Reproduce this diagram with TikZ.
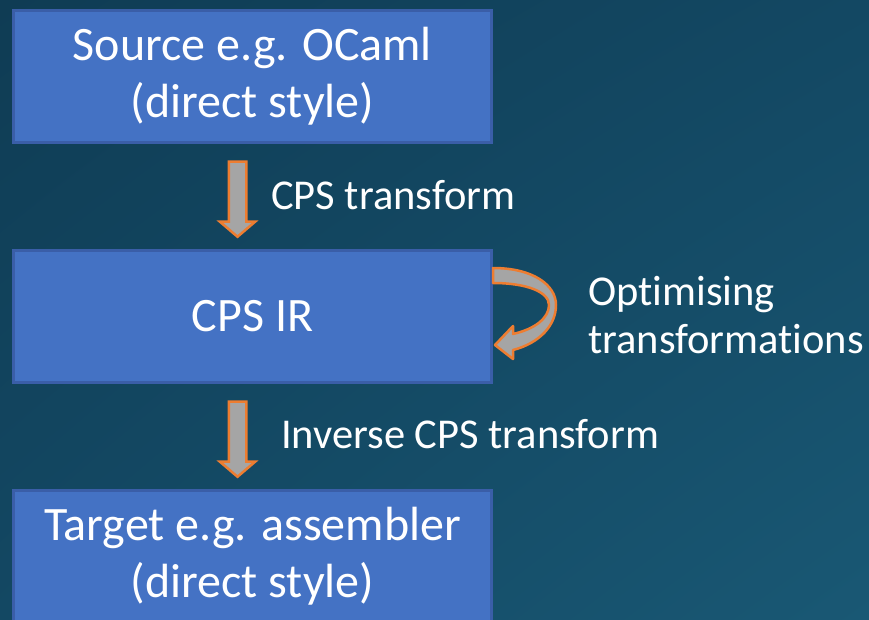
\documentclass[tikz,border=0pt]{standalone}
\usepackage{fontspec}
\setmainfont[Ligatures=NoCommon]{Carlito}
\usetikzlibrary{shapes.arrows,shadings}
\definecolor{SlideBgDark}{RGB}{15,60,84}
\definecolor{SlideBgMid}{RGB}{19,72,99}
\definecolor{SlideBgLight}{RGB}{25,88,116}
\definecolor{StageFill}{RGB}{68,114,196}
\definecolor{StageBorder}{RGB}{58,94,168}
\definecolor{ArrowFill}{RGB}{165,165,165}
\definecolor{ArrowEdge}{RGB}{237,125,49}

\begin{document}
\begin{tikzpicture}[x=1pt,y=-1pt,
  stage/.style={draw=StageBorder,fill=StageFill,line width=3pt,text=white,align=center,
    minimum width=478pt,minimum height=132pt,inner sep=0pt,font=\fontsize{48}{57}\selectfont},
  flow/.style={single arrow,shape border rotate=270,fill=ArrowFill,draw=ArrowEdge,line width=2.5pt,
    minimum height=75pt,single arrow head extend=9pt,single arrow tip angle=99,inner sep=7.5pt},
  note/.style={text=white,inner sep=0pt,font=\fontsize{42.5}{48}\selectfont},
  loopback/.style={fill=ArrowFill,draw=ArrowEdge,line width=2.5pt,line join=round}]
\useasboundingbox (0,0) rectangle (869,619);
\clip (0,0) rectangle (869,619);
\shade[upper left=SlideBgDark,upper right=SlideBgMid,lower left=SlideBgMid,lower right=SlideBgLight]
  (0,0) rectangle (869,619);
% pipeline stages
\node[stage] (src) at (252.5,76) {Source e.g. OCaml\\(direct style)};
\node[stage] (ir) at (252.5,316.5) {CPS IR};
\node[stage] (tgt) at (252.5,556.5) {Target e.g. assembler\\(direct style)};
% transforms
\node[flow] (toir) at (237.5,195.5) {};
\node[flow] (totgt) at (237.5,435.5) {};
\node[note,anchor=base west] (lblcps) at (271,209) {CPS transform};
\node[note,anchor=base west] (lblinv) at (281,448) {Inverse CPS transform};
% optimisation loop
\draw[loopback] (493,268) .. controls (533,268) and (556,285) .. (556,305)
  .. controls (556,325) and (540,343) .. (513,350) -- (513,359) -- (495,345) -- (513,326)
  -- (513,334) .. controls (535,329) and (549,318) .. (549,305)
  .. controls (549,292) and (527,283) .. (493,283) -- cycle;
\node[note,anchor=base west,align=left] (lblopt) at (588,353) {Optimising\\transformations};
\end{tikzpicture}
\end{document}
